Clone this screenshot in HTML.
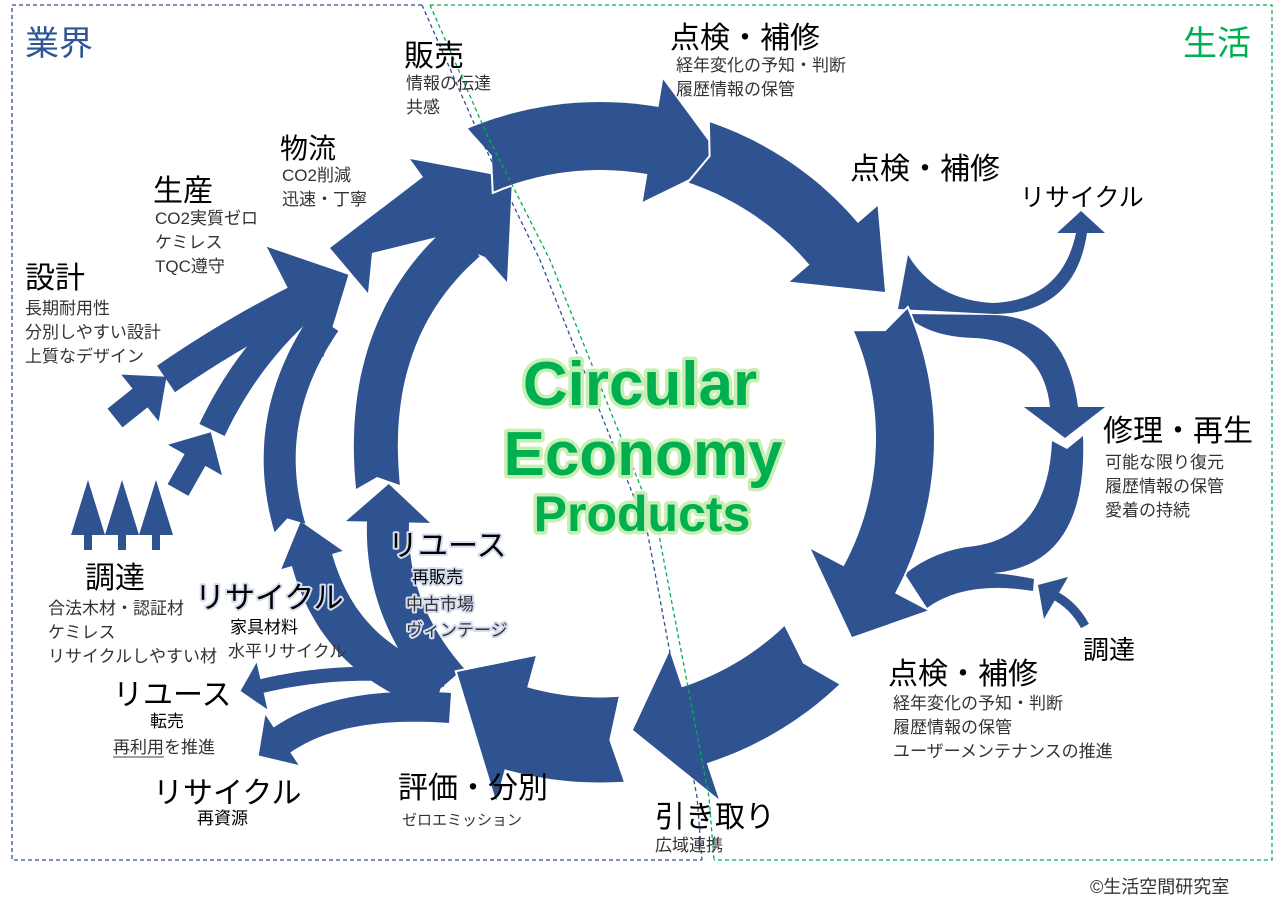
<!DOCTYPE html>
<html><head><meta charset="utf-8"><style>
html,body{margin:0;padding:0;background:#fff;}
svg{display:block;}
.j{font-family:"Liberation Sans","Noto Sans CJK JP",sans-serif;}
.b{font-size:30px;fill:#000;}
.s{font-size:17px;fill:#333;}
</style></head><body>
<svg id="s" width="1281" height="915" viewBox="0 0 1281 915" xmlns="http://www.w3.org/2000/svg">
<g id="arr" fill="#2f5290"></g>
<g fill="none" stroke-width="1.3" stroke-dasharray="4,3">
<polyline points="422,5 12,5 12,860 702,860" stroke="#2f5290"/>
<polyline points="422,5 480,137 540,260 647,530 697,797 702,860" stroke="#2f5290"/>
<polyline points="430,5 1272,5 1272,860 714,860" stroke="#00b050"/>
<polyline points="430,5 488,137 550,260 658,530 709,797 714,860" stroke="#00b050"/>
</g>
<g class="j">
<text x="25" y="55" font-size="34" fill="#2f5597">業界</text>
<text x="1183" y="55" font-size="34" fill="#00b050">生活</text>
<text class="b" x="404" y="66">販売</text>
<text class="s" x="406" y="89">情報の伝達</text>
<text class="s" x="406" y="113">共感</text>
<text class="b" x="670" y="48">点検・補修</text>
<text class="s" x="676" y="71">経年変化の予知・判断</text>
<text class="s" x="676" y="95">履歴情報の保管</text>
<text class="b" x="850" y="179">点検・補修</text>
<text x="1020" y="206" font-size="25">リサイクル</text>
<text x="280" y="158" font-size="28">物流</text>
<text class="s" x="282" y="181">CO2削減</text>
<text class="s" x="282" y="205">迅速・丁寧</text>
<text class="b" x="153" y="201">生産</text>
<text class="s" x="155" y="224">CO2実質ゼロ</text>
<text class="s" x="155" y="248">ケミレス</text>
<text class="s" x="155" y="272">TQC遵守</text>
<text class="b" x="25" y="288">設計</text>
<text class="s" x="25" y="314">長期耐用性</text>
<text class="s" x="25" y="338">分別しやすい設計</text>
<text class="s" x="25" y="362">上質なデザイン</text>
<text class="b" x="1103" y="441">修理・再生</text>
<text class="s" x="1105" y="468">可能な限り復元</text>
<text class="s" x="1105" y="492">履歴情報の保管</text>
<text class="s" x="1105" y="516">愛着の持続</text>
<g stroke="#d5ddef" stroke-width="4" stroke-linejoin="round" paint-order="stroke">
<text class="b" x="388" y="556">リユース</text>
<text x="412" y="583" font-size="17">再販売</text>
<text class="s" x="406" y="610">中古市場</text>
<text class="s" x="406" y="636">ヴィンテージ</text>
<text class="b" x="195" y="608">リサイクル</text>
</g>
<text class="b" x="85" y="588">調達</text>
<text class="s" x="48" y="614">合法木材・認証材</text>
<text class="s" x="48" y="638">ケミレス</text>
<text class="s" x="48" y="662">リサイクルしやすい材</text>
<text x="230" y="633" font-size="17">家具材料</text>
<text class="s" x="228" y="657">水平リサイクル</text>
<text x="1083" y="659" font-size="26">調達</text>
<text class="b" x="888" y="684">点検・補修</text>
<text class="s" x="893" y="709">経年変化の予知・判断</text>
<text class="s" x="893" y="733">履歴情報の保管</text>
<text class="s" x="893" y="757">ユーザーメンテナンスの推進</text>
<text class="b" x="113" y="705">リユース</text>
<text x="150" y="727" font-size="17">転売</text>
<text class="s" x="113" y="753">再利用を推進</text>
<line x1="113" y1="757" x2="164" y2="757" stroke="#404040" stroke-width="1"/>
<text class="b" x="153" y="803">リサイクル</text>
<text x="197" y="824" font-size="17">再資源</text>
<text class="b" x="398" y="798">評価・分別</text>
<text x="402" y="825" font-size="15" fill="#333">ゼロエミッション</text>
<text class="b" x="655" y="827">引き取り</text>
<text class="s" x="655" y="851">広域連携</text>
<text x="1090" y="893" font-size="18" fill="#333">©生活空間研究室</text>
</g>
<g font-family="'Liberation Sans',sans-serif" font-weight="bold" fill="#00b050" stroke="#c8eeb4" stroke-width="7" stroke-linejoin="round" paint-order="stroke" text-anchor="middle">
<text x="640" y="405" font-size="62">Circular</text>
<text x="643" y="475" font-size="62">Economy</text>
<text x="642" y="531" font-size="50">Products</text>
</g>
</svg>
<script>
(function(){
var g=document.getElementById('arr');
function nm(v){var l=Math.hypot(v[0],v[1])||1;return [v[0]/l,v[1]/l];}
function bez(a,c,b,n){n=n||30;var r=[];for(var i=0;i<=n;i++){var t=i/n,u=1-t;r.push([u*u*a[0]+2*u*t*c[0]+t*t*b[0],u*u*a[1]+2*u*t*c[1]+t*t*b[1]]);}return r;}
var CX=600,CY=438,RX=305,RY=302;
function ep(t){t=t*Math.PI/180;return [CX+RX*Math.cos(t),CY+RY*Math.sin(t)];}
function ell(a,b){var r=[];for(var t=a;t<=b+0.001;t+=1)r.push(ep(t));return r;}
function tan(p,i){var n=p.length;if(i==0)return nm([p[1][0]-p[0][0],p[1][1]-p[0][1]]);if(i==n-1)return nm([p[n-1][0]-p[n-2][0],p[n-1][1]-p[n-2][1]]);return nm([p[i+1][0]-p[i-1][0],p[i+1][1]-p[i-1][1]]);}
function arrow(p,o){var w=o.w/2,L=[],R=[],n=p.length;
for(var i=0;i<n;i++){var t=tan(p,i),q=[-t[1],t[0]];L.push([p[i][0]+q[0]*w,p[i][1]+q[1]*w]);R.push([p[i][0]-q[0]*w,p[i][1]-q[1]*w]);}
var poly=L.slice();
if(o.hw){var te=tan(p,n-1),ne=[-te[1],te[0]],b=p[n-1];poly.push([b[0]+ne[0]*o.hw,b[1]+ne[1]*o.hw]);var tip=o.tip||[b[0]+te[0]*o.hl,b[1]+te[1]*o.hl];poly.push(tip);poly.push([b[0]-ne[0]*o.hw,b[1]-ne[1]*o.hw]);}
poly=poly.concat(R.reverse());
if(o.notch){var t0=tan(p,0);poly.push([p[0][0]+t0[0]*o.notch,p[0][1]+t0[1]*o.notch]);}
add('M'+poly.map(function(a){return a[0].toFixed(1)+','+a[1].toFixed(1);}).join(' L')+'Z',o.st);}
function add(d,st){var e=document.createElementNS('http://www.w3.org/2000/svg','path');e.setAttribute('d',d);if(st){e.setAttribute('stroke','#fff');e.setAttribute('stroke-width',st);e.setAttribute('stroke-linejoin','miter');e.setAttribute('paint-order','stroke');}g.appendChild(e);}
[88,122,156].forEach(function(x){add('M'+x+',480 L'+(x-17)+',535 L'+(x+17)+',535Z');add('M'+(x-4)+',534 h8 v16 h-8Z');});
arrow([[115,418],[140,398]],{w:24,hw:30,hl:34});
arrow([[178,490],[195,460]],{w:24,hw:31,hl:32});
arrow(bez([212,430],[245,360],[300,310]),{w:28});
arrow(bez([290,528],[258,420],[325,322]),{w:32,notch:10});
arrow(bez([166,379],[230,335],[295,302]),{w:32,hw:62,hl:60});
arrow(bez([378,487],[362,330],[465,240]),{w:44,notch:10});
add('M512,178 L410,159 L423,177 L330,248 L368,293 L372,253 L437,237 L485,257 L507,282Z');
arrow(bez([440,690],[340,660],[312,560]),{w:42,hw:32,hl:40});
arrow(bez([448,682],[385,610],[388,522]),{w:42,hw:42,hl:38});
arrow(bez([445,680],[350,665],[262,686]),{w:14,hw:24,hl:22});
arrow(bez([450,708],[340,700],[282,740]),{w:30,hw:30,hl:28});
add('M908,255 Q935,300 993,303 Q1062,300 1076,233 L1057,233 L1081,211 L1105,233 L1087,233 Q1075,313 995,314 L898,309Z');
add('M905,314 Q928,337 975,338 Q1043,342 1050,407 L1024,407 L1065,438 L1105,407 L1078,407 Q1066,316 993,315Z');
add('M1052,441 L1067,449 L1083,436 Q1088,565 993,573 Q1015,575 1034,579 L1033,591 Q965,580 927,608 L905,574 Q935,550 975,546 Q1048,535 1052,441Z');
var e=document.createElementNS('http://www.w3.org/2000/svg','path');e.setAttribute('d','M1085,626 Q1073,604 1052,594');e.setAttribute('stroke','#2f5290');e.setAttribute('stroke-width','9');e.setAttribute('fill','none');g.appendChild(e);
add('M1038,585 L1068,577 L1044,619Z');
arrow(ell(247,280),{w:68,hw:62,tip:ep(294),notch:12,st:4});
arrow(ell(289,320),{w:64,hw:58,tip:[885,292],notch:12,st:4});
arrow(ell(337,388),{w:58,hw:66,tip:[852,637],notch:12,st:4});
arrow(ell(46,72),{w:80,hw:78,tip:[633,730],notch:12,st:4});
arrow(ell(86,106),{w:85,hw:75,tip:[457,672],notch:12,st:4});
})();
</script>
</body></html>
